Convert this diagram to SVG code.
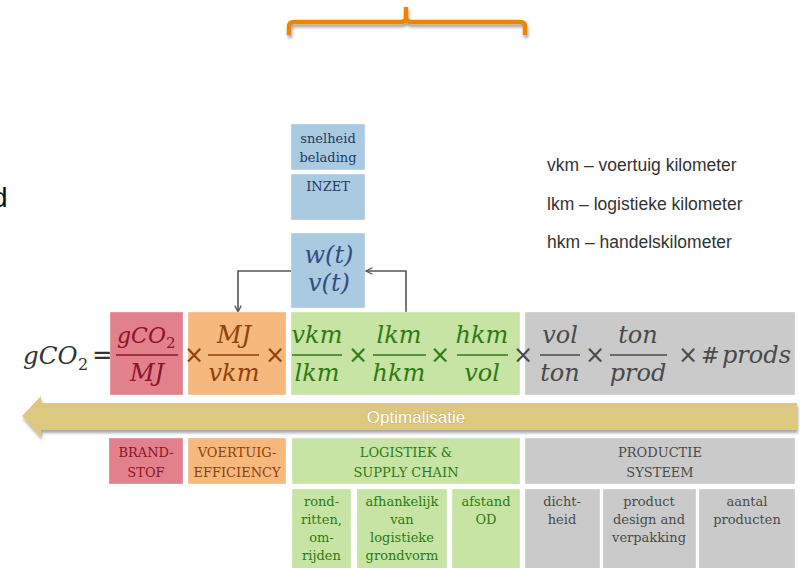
<svg xmlns="http://www.w3.org/2000/svg" width="800" height="568" viewBox="0 0 800 568">
<style>
.red{fill:#E2808C}.ora{fill:#F6B87D}.grn{fill:#C7E4A4}.gry{fill:#CACACA}.blu{fill:#AACAE2}
.box{stroke:#ffffff;stroke-opacity:.35;stroke-width:1}
.lbl{font-family:"DejaVu Serif","Liberation Serif",serif;font-size:13px;text-anchor:middle}
.math{font-family:"DejaVu Serif","Liberation Serif",serif;font-style:italic;font-size:24px;text-anchor:middle}
.op{font-family:"DejaVu Sans","Liberation Sans",sans-serif;font-size:24px;text-anchor:middle}
.leg{font-family:"Liberation Sans",Arial,sans-serif;font-size:17.5px;fill:#333}
.tr{fill:#8E1428}.to{fill:#8E420C}.tg{fill:#2F7A15}.ty{fill:#4A4A4A}.tb{fill:#26395C}
.conn{fill:none;stroke:#555;stroke-width:1.6}
</style>
<defs>
<marker id="ah" viewBox="0 0 10 10" refX="9" refY="5" markerWidth="8" markerHeight="8" orient="auto-start-reverse" markerUnits="userSpaceOnUse">
<path d="M1,1 L9,5 L1,9" fill="none" stroke="#555" stroke-width="1.6"/>
</marker>
<filter id="sh" x="-10%" y="-50%" width="120%" height="200%">
<feGaussianBlur in="SourceAlpha" stdDeviation="1.5"/>
<feOffset dx="1" dy="3"/>
<feComponentTransfer><feFuncA type="linear" slope="0.35"/></feComponentTransfer>
<feMerge><feMergeNode/><feMergeNode in="SourceGraphic"/></feMerge>
</filter>
</defs>

<!-- orange brace -->
<path d="M289,35 L289,27 Q289,22 294,22 L401,22 Q406,22 406,17 L406,7 M406,17 Q406,22 411,22 L520,22 Q525,22 525,27 L525,35" fill="none" stroke="#EE8400" stroke-width="4.5" filter="url(#sh)"/>

<!-- partial letter at left edge -->
<text x="-8" y="207" font-family="Liberation Sans,Arial,sans-serif" font-size="28" fill="#111">d</text>

<!-- legend -->
<g id="legend">
<text class="leg" x="547" y="171">vkm – voertuig kilometer</text>
<text class="leg" x="547" y="210">lkm  – logistieke kilometer</text>
<text class="leg" x="547" y="248">hkm – handelskilometer</text>
</g>

<!-- blue boxes -->
<g id="snelheid"><rect class="blu box" x="291" y="124" width="74" height="46"/>
<text class="lbl tb" x="328" y="143">snelheid</text><text class="lbl tb" x="328" y="162">belading</text></g>
<g id="inzet"><rect class="blu box" x="291" y="174" width="74" height="46"/>
<text class="lbl tb" x="328" y="191" font-size="12">INZET</text></g>
<g id="wv"><rect class="blu box" x="291" y="233" width="74" height="75"/>
<text class="math" x="329" y="263" font-size="25" fill="#2F4E7E">w(t)</text>
<text class="math" x="329" y="291" font-size="25" fill="#2F4E7E">v(t)</text></g>

<!-- connectors -->
<g id="connectors">
<path class="conn" d="M291,271 L238,271 L238,312" marker-end="url(#ah)"/>
<path class="conn" d="M406,312 L406,271 L366,271" marker-end="url(#ah)"/>
</g>

<!-- equation -->
<g id="lhs">
<text x="23" y="364" font-family="DejaVu Serif,Liberation Serif,serif" font-size="26" fill="#333"><tspan font-style="italic" font-size="24.5">gCO</tspan><tspan x="78" y="370" font-size="16">2</tspan><tspan x="92" y="364" font-family="DejaVu Sans,Liberation Sans,sans-serif">=</tspan></text>
</g>
<g id="brandstof-frac"><rect class="red box" x="110" y="312" width="73" height="83"/>
<text class="tr" x="117" y="343" font-family="DejaVu Serif,Liberation Serif,serif" font-size="22"><tspan font-style="italic">gCO</tspan><tspan x="166" y="348" font-size="15">2</tspan></text>
<line x1="116" y1="355" x2="178" y2="355" stroke="#8E1428" stroke-width="1.5"/>
<text class="math tr" x="147" y="381">MJ</text></g>
<g id="voertuig-frac"><rect class="ora box" x="188" y="312" width="98" height="83"/>
<text class="math to" x="234" y="343">MJ</text>
<line x1="208" y1="355" x2="259" y2="355" stroke="#8E420C" stroke-width="1.5"/>
<text class="math to" x="234" y="381">vkm</text></g>
<g id="logistiek-frac"><rect class="grn box" x="291" y="312" width="229" height="83"/>
<text class="math tg" x="317" y="343">vkm</text>
<line x1="292" y1="355" x2="342" y2="355" stroke="#2F7A15" stroke-width="1.5"/>
<text class="math tg" x="317" y="381">lkm</text>
<text class="math tg" x="399" y="343">lkm</text>
<line x1="373" y1="355" x2="426" y2="355" stroke="#2F7A15" stroke-width="1.5"/>
<text class="math tg" x="399" y="381">hkm</text>
<text class="math tg" x="482" y="343">hkm</text>
<line x1="457" y1="355" x2="508" y2="355" stroke="#2F7A15" stroke-width="1.5"/>
<text class="math tg" x="482" y="381">vol</text></g>
<g id="productie-frac"><rect class="gry box" x="525" y="312" width="270" height="83"/>
<text class="math ty" x="560" y="343">vol</text>
<line x1="540" y1="355" x2="580" y2="355" stroke="#4A4A4A" stroke-width="1.5"/>
<text class="math ty" x="560" y="381">ton</text>
<text class="math ty" x="638" y="343">ton</text>
<line x1="610" y1="355" x2="667" y2="355" stroke="#4A4A4A" stroke-width="1.5"/>
<text class="math ty" x="638" y="381">prod</text>
<text class="ty" x="701" y="363" font-family="DejaVu Serif,Liberation Serif,serif" font-size="22">#<tspan x="722" font-style="italic" font-size="24">prods</tspan></text></g>
<g id="operators" class="op">
<text x="194" y="363" fill="#8E420C">×</text>
<text x="275" y="363" fill="#8E420C">×</text>
<text x="358" y="363" fill="#2F7A15">×</text>
<text x="440" y="363" fill="#2F7A15">×</text>
<text x="523" y="363" fill="#4A4A4A">×</text>
<text x="595" y="363" fill="#4A4A4A">×</text>
<text x="688" y="363" fill="#4A4A4A">×</text>
</g>

<!-- optimalisatie arrow -->
<g id="optimalisatie">
<path d="M22,416 L41,396 L41,403 L797,403 L797,430 L41,430 L41,437 Z" fill="#DCC87E" filter="url(#sh)"/>
<text x="416" y="423" text-anchor="middle" font-family="Liberation Sans Narrow,Liberation Sans,Arial,sans-serif" font-size="17" fill="#fff" style="paint-order:stroke" stroke="#b7a56a" stroke-width="0.6">Optimalisatie</text>
</g>

<!-- category boxes -->
<g id="brandstof"><rect class="red box" x="109" y="438" width="74" height="46"/>
<text class="lbl tr" x="146" y="457">BRAND-</text><text class="lbl tr" x="146" y="477">STOF</text></g>
<g id="voertuig"><rect class="ora box" x="188" y="438" width="98" height="46"/>
<text class="lbl to" x="237" y="457">VOERTUIG-</text><text class="lbl to" x="237" y="477">EFFICIENCY</text></g>
<g id="logistiek"><rect class="grn box" x="292" y="438" width="228" height="46"/>
<text class="lbl tg" x="406" y="457">LOGISTIEK &amp;</text><text class="lbl tg" x="406" y="477">SUPPLY CHAIN</text></g>
<g id="productie"><rect class="gry box" x="525" y="438" width="270" height="46"/>
<text class="lbl ty" x="660" y="457">PRODUCTIE</text><text class="lbl ty" x="660" y="477">SYSTEEM</text></g>

<!-- sub boxes -->
<g id="rondritten"><rect class="grn box" x="292" y="489" width="59" height="80"/>
<text class="lbl tg" x="321.5" y="506">rond-</text><text class="lbl tg" x="321.5" y="524">ritten,</text><text class="lbl tg" x="321.5" y="542">om-</text><text class="lbl tg" x="321.5" y="560">rijden</text></g>
<g id="afhankelijk"><rect class="grn box" x="357" y="489" width="90" height="80"/>
<text class="lbl tg" x="402" y="506">afhankelijk</text><text class="lbl tg" x="402" y="524">van</text><text class="lbl tg" x="402" y="542">logistieke</text><text class="lbl tg" x="402" y="560">grondvorm</text></g>
<g id="afstand"><rect class="grn box" x="452" y="489" width="68" height="80"/>
<text class="lbl tg" x="486" y="506">afstand</text><text class="lbl tg" x="486" y="524">OD</text></g>
<g id="dichtheid"><rect class="gry box" x="525" y="489" width="75" height="80"/>
<text class="lbl ty" x="562" y="506">dicht-</text><text class="lbl ty" x="562" y="524">heid</text></g>
<g id="productdesign"><rect class="gry box" x="603" y="489" width="93" height="80"/>
<text class="lbl ty" x="649" y="506">product</text><text class="lbl ty" x="649" y="524">design and</text><text class="lbl ty" x="649" y="542">verpakking</text></g>
<g id="aantal"><rect class="gry box" x="699" y="489" width="96" height="80"/>
<text class="lbl ty" x="747" y="506">aantal</text><text class="lbl ty" x="747" y="524">producten</text></g>
</svg>
